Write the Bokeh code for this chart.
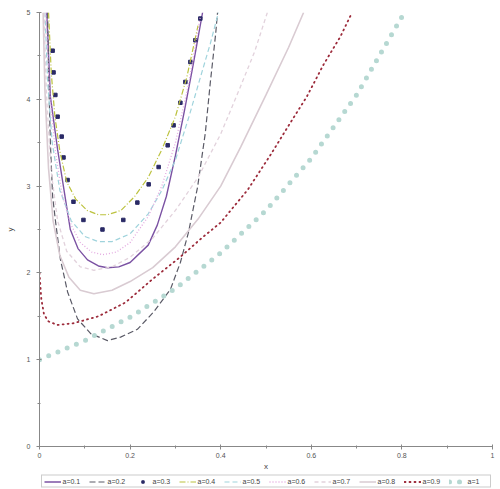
from bokeh.plotting import figure
from bokeh.layouts import column
from bokeh.models import Range1d, FixedTicker, Legend, LegendItem
from bokeh.embed import file_html
from bokeh.resources import INLINE

# ---- data (x, y per parameter value) ----
labels = ["a=0.1", "a=0.2", "a=0.3", "a=0.4", "a=0.5",
          "a=0.6", "a=0.7", "a=0.8", "a=0.9", "a=1"]

x_a01 = [0.016, 0.024, 0.04, 0.053, 0.068, 0.085, 0.106, 0.13, 0.15, 0.175, 0.2, 0.24, 0.26, 0.28, 0.30, 0.32, 0.34, 0.36]
y_a01 = [5.0, 4.03, 3.42, 2.99, 2.5, 2.28, 2.15, 2.08, 2.06, 2.07, 2.12, 2.32, 2.55, 2.88, 3.35, 3.87, 4.42, 5.0]

x_a02 = [0.018, 0.02, 0.024, 0.029, 0.035, 0.046, 0.062, 0.084, 0.113, 0.15, 0.179, 0.216, 0.252, 0.289, 0.311, 0.329, 0.349, 0.366, 0.377, 0.389, 0.393]
y_a02 = [5.0, 4.3, 3.5, 2.88, 2.61, 2.16, 1.78, 1.47, 1.30, 1.22, 1.26, 1.35, 1.55, 1.81, 2.12, 2.47, 2.99, 3.61, 4.19, 4.76, 5.0]

x_a03 = [0.029, 0.031, 0.035, 0.040, 0.049, 0.053, 0.062, 0.075, 0.097, 0.139, 0.185, 0.216, 0.241, 0.263, 0.283, 0.296, 0.311, 0.322, 0.333, 0.344, 0.355]
y_a03 = [4.56, 4.31, 4.05, 3.80, 3.57, 3.33, 3.07, 2.82, 2.61, 2.50, 2.61, 2.81, 3.02, 3.22, 3.47, 3.70, 3.96, 4.20, 4.43, 4.68, 4.93]

x_a04 = [0.02, 0.026, 0.034, 0.045, 0.06, 0.08, 0.105, 0.13, 0.15, 0.18, 0.21, 0.24, 0.27, 0.30, 0.325, 0.35]
y_a04 = [5.0, 4.3, 3.8, 3.4, 3.05, 2.85, 2.72, 2.67, 2.67, 2.72, 2.88, 3.10, 3.42, 3.80, 4.25, 4.85]

x_a05 = [0.012, 0.018, 0.028, 0.045, 0.07, 0.10, 0.13, 0.16, 0.20, 0.24, 0.27, 0.30, 0.33, 0.355, 0.377, 0.395]
y_a05 = [5.0, 4.2, 3.5, 2.95, 2.6, 2.42, 2.36, 2.36, 2.45, 2.68, 2.95, 3.3, 3.8, 4.25, 4.64, 5.0]

x_a06 = [0.014, 0.022, 0.035, 0.05, 0.07, 0.09, 0.115, 0.14, 0.17, 0.20, 0.24, 0.27, 0.30, 0.33, 0.355]
y_a06 = [5.0, 4.1, 3.4, 2.9, 2.55, 2.35, 2.24, 2.21, 2.24, 2.35, 2.65, 3.0, 3.5, 4.2, 4.95]

x_a07 = [0.01, 0.015, 0.025, 0.04, 0.06, 0.09, 0.12, 0.16, 0.20, 0.25, 0.30, 0.35, 0.40, 0.444, 0.475, 0.503]
y_a07 = [5.0, 4.1, 3.2, 2.6, 2.25, 2.07, 2.03, 2.07, 2.18, 2.4, 2.72, 3.1, 3.6, 4.15, 4.55, 5.0]

x_a08 = [0.008, 0.012, 0.02, 0.03, 0.045, 0.065, 0.09, 0.12, 0.16, 0.20, 0.25, 0.30, 0.35, 0.40, 0.444, 0.50, 0.55, 0.583]
y_a08 = [5.0, 4.1, 3.2, 2.6, 2.2, 1.95, 1.8, 1.76, 1.8, 1.9, 2.06, 2.3, 2.62, 3.0, 3.45, 4.05, 4.6, 5.0]

x_a09 = [0.0, 0.004, 0.01, 0.02, 0.04, 0.075, 0.13, 0.19, 0.25, 0.31, 0.36, 0.40, 0.46, 0.51, 0.555, 0.59, 0.627, 0.664, 0.69]
y_a09 = [2.0, 1.7, 1.52, 1.44, 1.40, 1.42, 1.50, 1.66, 1.93, 2.18, 2.41, 2.58, 2.96, 3.36, 3.74, 4.03, 4.40, 4.72, 5.0]

x_a10 = [0.0, 0.1, 0.2, 0.3, 0.4, 0.5, 0.6, 0.7, 0.8]
y_a10 = [1.0, 1.22, 1.49, 1.82, 2.23, 2.72, 3.32, 4.05, 4.95]

x_ticks = [0, 0.2, 0.4, 0.6, 0.8, 1.0]
x_tick_labels = ["0", "0.2", "0.4", "0.6", "0.8", "1"]
y_ticks = [0, 1, 2, 3, 4, 5]

FONT = "Liberation Sans"

styles = [
    dict(kind="line", line_color="#7b52a3", line_width=1.4),
    dict(kind="line", line_color="#5a5a66", line_width=1.2, line_dash="6 3"),
    dict(kind="scatter", marker="square", size=3.5, fill_color="#2a2a66", line_color="#2a2a66"),
    dict(kind="line", line_color="#bcc23e", line_width=1.2, line_dash="6 2 1 2"),
    dict(kind="line", line_color="#9fd3dc", line_width=1.2, line_dash="5 3"),
    dict(kind="line", line_color="#e3a8e0", line_width=1.3, line_dash="1 2"),
    dict(kind="line", line_color="#e2d2dc", line_width=1.3, line_dash="4 3"),
    dict(kind="line", line_color="#d9cbd2", line_width=1.6),
    dict(kind="line", line_color="#9c2a3a", line_width=1.8, line_dash="1 4", line_cap="round"),
    dict(kind="line", line_color="#b6d8d2", line_width=5, line_dash="0 10", line_cap="round"),
]
xs = [x_a01, x_a02, x_a03, x_a04, x_a05, x_a06, x_a07, x_a08, x_a09, x_a10]
ys = [y_a01, y_a02, y_a03, y_a04, y_a05, y_a06, y_a07, y_a08, y_a09, y_a10]


def draw(fig, x, y, st):
    st = dict(st)
    kind = st.pop("kind")
    if kind == "line":
        return fig.line(x, y, **st)
    return fig.scatter(x, y, **st)


p = figure(width=500, height=473, output_backend="svg", toolbar_location=None,
           x_range=Range1d(0, 1.0), y_range=Range1d(0, 5),
           min_border_left=39, min_border_right=8, min_border_top=12, min_border_bottom=25,
           x_axis_label="x", y_axis_label="y")
p.outline_line_color = None
p.grid.visible = False

for x, y, st in zip(xs, ys, styles):
    draw(p, x, y, st)

for ax in (p.xaxis[0], p.yaxis[0]):
    ax.axis_line_color = "#888888"
    ax.major_tick_line_color = "#888888"
    ax.minor_tick_line_color = "#888888"
    ax.major_tick_in = 2
    ax.major_tick_out = 3
    ax.minor_tick_in = 1
    ax.minor_tick_out = 2
    ax.major_label_text_font = FONT
    ax.major_label_text_font_size = "7px"
    ax.major_label_text_color = "#555555"
    ax.axis_label_text_font = FONT
    ax.axis_label_text_font_size = "8px"
    ax.axis_label_text_font_style = "normal"
    ax.axis_label_text_color = "#444444"

p.xaxis[0].ticker = FixedTicker(ticks=x_ticks, minor_ticks=[0.1, 0.3, 0.5, 0.7, 0.9])
p.xaxis[0].major_label_overrides = {t: s for t, s in zip(x_ticks, x_tick_labels)}
p.xaxis[0].major_label_standoff = 3
p.xaxis[0].axis_label_standoff = 1
p.yaxis[0].ticker = FixedTicker(ticks=y_ticks, minor_ticks=[0.5, 1.5, 2.5, 3.5, 4.5])
p.yaxis[0].major_label_standoff = 6
p.yaxis[0].axis_label_standoff = 9

# legend strip below the plot
lg = figure(width=500, height=16, output_backend="svg", toolbar_location=None,
            x_range=Range1d(0, 1), y_range=Range1d(0, 1),
            x_axis_location=None, y_axis_location=None,
            min_border_left=0, min_border_right=0, min_border_top=0, min_border_bottom=0)
lg.grid.visible = False
lg.outline_line_color = None

items = []
for lab, st in zip(labels, styles):
    r = draw(lg, [-5, -4], [-5, -4], st)
    items.append(LegendItem(label=lab, renderers=[r]))

legend = Legend(items=items, orientation="horizontal", location="center",
                label_text_font=FONT, label_text_font_size="7px", label_text_color="#444444",
                glyph_width=17, glyph_height=6, label_height=6, label_standoff=2,
                spacing=6, padding=2, margin=0,
                border_line_color="#999999", border_line_width=1,
                background_fill_color="white")
lg.add_layout(legend, "center")

layout = column(p, lg, spacing=0)
open("out.html", "w").write(file_html(layout, INLINE))
